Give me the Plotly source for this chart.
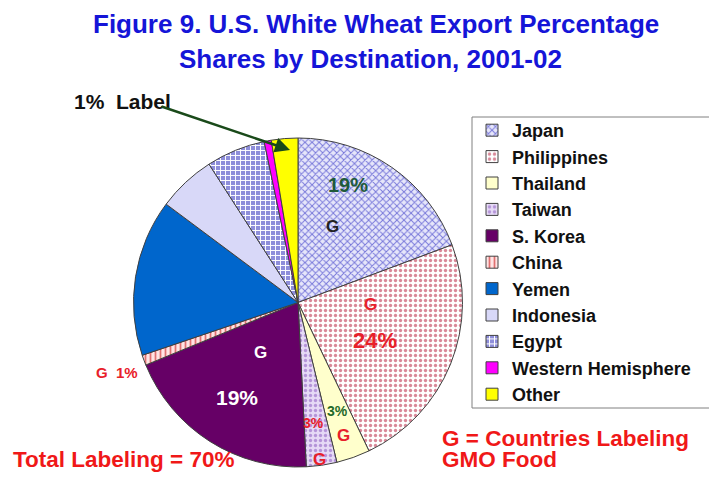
import plotly.graph_objects as go

# page body adds an 8px margin, so the figure is drawn 8px in and sized to fit
# (height kept to 482 - 2*8 so the page does not overflow and get a scrollbar)
OFF = 8
W, H = 717 - OFF, 482 - 2 * OFF

countries = ["Japan", "Philippines", "Thailand", "Taiwan", "S. Korea", "China",
             "Yemen", "Indonesia", "Egypt", "Western Hemisphere", "Other"]
shares = [19.3, 23.6, 3.3, 3.0, 19.6, 1.0, 15.4, 5.7, 5.8, 0.7, 2.6]
colors = ["#E6E6FA", "#FFFFFF", "#FFFFCC", "#E6DAF6", "#660066", "#FFE4E4",
          "#0066CC", "#D8D8F8", "#8E8EDA", "#FF00FF", "#FFFF00"]
pat_shape = ["x", ".", "", ".", "", "|", "", "", "+", "", ""]
pat_fg = ["#7878DA", "#D88898", "#000000", "#B494D8", "#000000", "#E07070",
          "#000000", "#000000", "#FFFFFF", "#000000", "#000000"]

ARIAL = "Arial, Liberation Sans, sans-serif"

def px(x, y):
    return (x - OFF) / W, 1 - (y - OFF) / H

cx, cy, r = 298, 302.5, 164.5
x0, y0 = px(cx - r, cy + r)
x1, y1 = px(cx + r, cy - r)

fig = go.Figure(go.Pie(
    labels=countries,
    values=shares,
    sort=False,
    direction="clockwise",
    rotation=0,
    textinfo="none",
    hoverinfo="label+percent",
    domain=dict(x=[x0, x1], y=[y0, y1]),
    marker=dict(
        colors=colors,
        line=dict(color="#404040", width=1),
        pattern=dict(shape=pat_shape, fgcolor=pat_fg, bgcolor=colors,
                     size=5, solidity=0.35),
    ),
))

annotations = []

def txt(x, y, s, size, color, xanchor="center", yanchor="middle"):
    ax_, ay_ = px(x, y)
    annotations.append(dict(
        x=ax_, y=ay_, xref="paper", yref="paper", text=s, showarrow=False,
        xanchor=xanchor, yanchor=yanchor,
        font=dict(family=ARIAL, size=size, color=color, weight="bold")))

# title
txt(376, 24, "Figure 9. U.S. White Wheat Export Percentage", 26, "#1515D8")
txt(370, 59, "Shares by Destination, 2001-02", 26, "#1515D8")

# slice labels
txt(348, 185, "19%", 20, "#1F5A3A")
txt(332, 226, "G", 17, "#222222")
txt(370, 304, "G", 17, "#E8202A")
txt(375, 340, "24%", 22, "#E8202A")
txt(260, 352, "G", 17, "#FFFFFF")
txt(237, 397, "19%", 21, "#FFFFFF")
txt(313, 423, "3%", 14, "#E8202A")
txt(337, 411, "3%", 14, "#1F6A2A")
txt(343, 435, "G", 17, "#E8202A")
txt(319, 459, "G", 17, "#E8202A")
txt(117, 372, "G&nbsp;&nbsp;1%", 15, "#E8202A")
txt(122, 101, "1%&nbsp;&nbsp;Label", 21, "#111111")

# notes (bottom line sits on the page's lower edge)
txt(440, 438, "G = Countries Labeling", 22.5, "#F01818", "left")
txt(440, 474, "GMO Food", 22.5, "#F01818", "left", "bottom")
txt(11, 474, "Total Labeling = 70%", 22.5, "#F01818", "left", "bottom")

# arrow for 1% label
hx, hy = px(290, 150)
annotations.append(dict(
    x=hx, y=hy, ax=160 - 290, ay=106 - 150, xref="paper", yref="paper",
    text="", showarrow=True, arrowhead=2, arrowsize=1.2, arrowwidth=2.5,
    arrowcolor="#1A4A1A"))

# legend frame (wider than plotly's auto-sized box, as in the original)
bx0, by0 = px(472, 408)
bx1, by1 = px(713, 117)
shapes = [dict(type="rect", xref="paper", yref="paper", x0=bx0, y0=by0, x1=bx1, y1=by1,
               line=dict(color="#808080", width=1), fillcolor="rgba(0,0,0,0)",
               layer="above")]

lx, ly = px(472, 112)
fig.update_layout(
    width=W, height=H,
    margin=dict(l=0, r=0, t=0, b=0),
    paper_bgcolor="white",
    plot_bgcolor="white",
    showlegend=True,
    legend=dict(
        x=lx, y=ly, xanchor="left", yanchor="top",
        borderwidth=0, bgcolor="rgba(0,0,0,0)",
        font=dict(family=ARIAL, size=18, color="#111111", weight="bold"),
        traceorder="normal",
    ),
    annotations=annotations,
    shapes=shapes,
)

fig.write_html("out.html")
